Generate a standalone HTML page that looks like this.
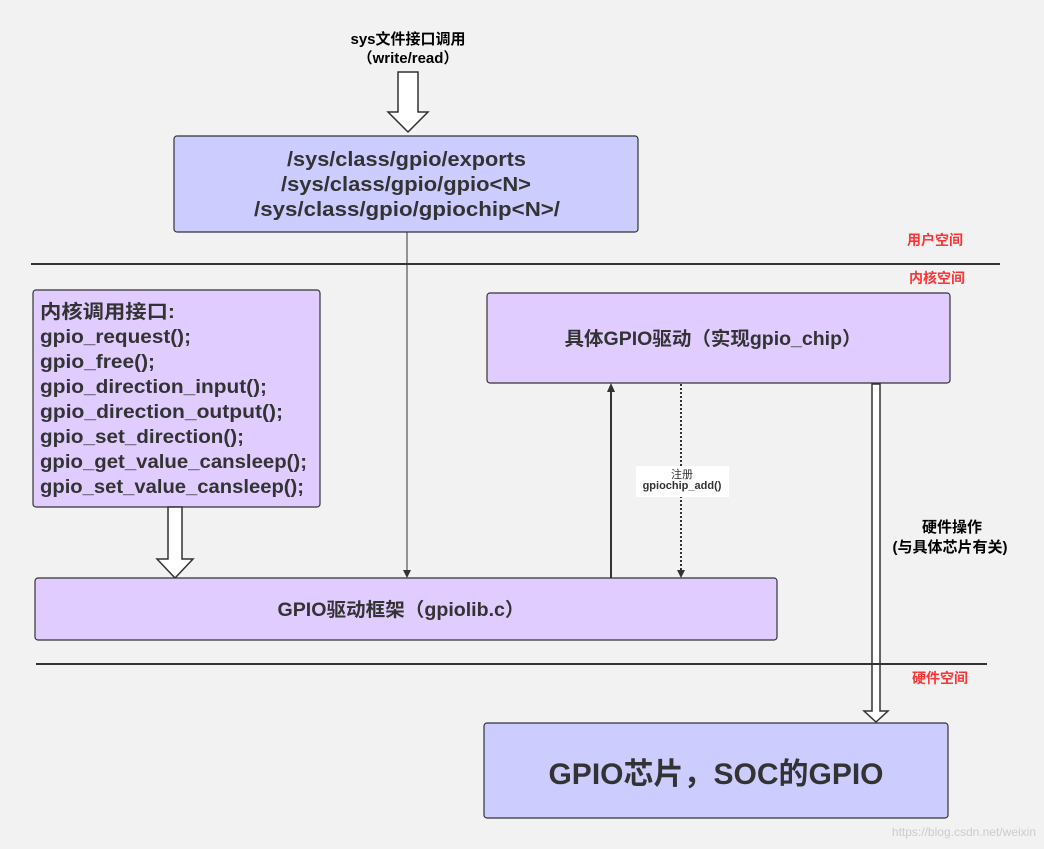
<!DOCTYPE html>
<html><head><meta charset="utf-8"><style>
html,body{margin:0;padding:0;background:#f2f2f2;}
svg{display:block;}
text{font-family:"Liberation Sans","Noto Sans CJK SC",sans-serif;fill:#333;font-weight:bold;}
</style></head><body>
<svg width="1044" height="849" viewBox="0 0 1044 849">
<rect width="1044" height="849" fill="#f2f2f2"/>
<text x="408" y="44" font-size="15" text-anchor="middle" style="fill:#000">sys文件接口调用</text>
<text x="408" y="63" font-size="15" text-anchor="middle" style="fill:#000">（write/read）</text>
<path d="M398,72 H418 V112 H428 L408,132 L388,112 H398 Z" fill="#fff" stroke="#333" stroke-width="1.5"/>
<rect x="174" y="136" width="464" height="96" rx="3" fill="#ccccff" stroke="#333" stroke-width="1.2"/>
<text x="287" y="166" font-size="20" textLength="239" lengthAdjust="spacingAndGlyphs">/sys/class/gpio/exports</text>
<text x="281" y="191" font-size="20" textLength="250" lengthAdjust="spacingAndGlyphs">/sys/class/gpio/gpio&lt;N&gt;</text>
<text x="254" y="216" font-size="20" textLength="306" lengthAdjust="spacingAndGlyphs">/sys/class/gpio/gpiochip&lt;N&gt;/</text>
<line x1="31" y1="264" x2="1000" y2="264" stroke="#333" stroke-width="2"/>
<text x="935" y="245" font-size="14" text-anchor="middle" style="fill:#ff3333">用户空间</text>
<text x="937" y="283" font-size="14" text-anchor="middle" style="fill:#ff3333">内核空间</text>
<rect x="33" y="290" width="287" height="217" rx="3" fill="#e1ccff" stroke="#333" stroke-width="1.2"/>
<g font-size="19">
<text x="40" y="318" textLength="135" lengthAdjust="spacingAndGlyphs">内核调用接口:</text>
<text x="40" y="343" textLength="151" lengthAdjust="spacingAndGlyphs">gpio_request();</text>
<text x="40" y="368" textLength="115" lengthAdjust="spacingAndGlyphs">gpio_free();</text>
<text x="40" y="393" textLength="227" lengthAdjust="spacingAndGlyphs">gpio_direction_input();</text>
<text x="40" y="418" textLength="243" lengthAdjust="spacingAndGlyphs">gpio_direction_output();</text>
<text x="40" y="443" textLength="204" lengthAdjust="spacingAndGlyphs">gpio_set_direction();</text>
<text x="40" y="468" textLength="267" lengthAdjust="spacingAndGlyphs">gpio_get_value_cansleep();</text>
<text x="40" y="493" textLength="264" lengthAdjust="spacingAndGlyphs">gpio_set_value_cansleep();</text>
</g>
<path d="M168,507 H182 V559 H193 L175,578 L157,559 H168 Z" fill="#fff" stroke="#333" stroke-width="1.5"/>
<line x1="407" y1="232" x2="407" y2="572" stroke="#333" stroke-width="1"/>
<path d="M403,570 L407,578 L411,570 Z" fill="#333"/>
<rect x="487" y="293" width="463" height="90" rx="3" fill="#e1ccff" stroke="#333" stroke-width="1.2"/>
<text x="713" y="345" font-size="19" text-anchor="middle" textLength="297" lengthAdjust="spacingAndGlyphs">具体GPIO驱动（实现gpio_chip）</text>
<line x1="611" y1="578" x2="611" y2="390" stroke="#333" stroke-width="2"/>
<path d="M607,392 L611,383 L615,392 Z" fill="#333"/>
<line x1="681" y1="384" x2="681" y2="570" stroke="#333" stroke-width="2" stroke-dasharray="2,2"/>
<path d="M677,570 L681,578 L685,570 Z" fill="#333"/>
<rect x="636" y="466" width="93" height="31" fill="#fff"/>
<text x="682" y="478" font-size="11" text-anchor="middle" style="font-weight:normal">注册</text>
<text x="682" y="489" font-size="11" text-anchor="middle">gpiochip_add()</text>
<rect x="35" y="578" width="742" height="62" rx="3" fill="#e1ccff" stroke="#333" stroke-width="1.2"/>
<text x="401" y="616" font-size="19" text-anchor="middle" textLength="247" lengthAdjust="spacingAndGlyphs">GPIO驱动框架（gpiolib.c）</text>
<path d="M872,384 H880 V711 H888 L876,722 L864,711 H872 Z" fill="#fff" stroke="#333" stroke-width="1.5"/>
<text x="952" y="532" font-size="15" text-anchor="middle" style="fill:#000">硬件操作</text>
<text x="950" y="552" font-size="15" text-anchor="middle" style="fill:#000">(与具体芯片有关)</text>
<line x1="36" y1="664" x2="987" y2="664" stroke="#333" stroke-width="2"/>
<text x="940" y="683" font-size="14" text-anchor="middle" style="fill:#ff3333">硬件空间</text>
<rect x="484" y="723" width="464" height="95" rx="3" fill="#ccccff" stroke="#333" stroke-width="1.2"/>
<text x="716" y="784" font-size="30" text-anchor="middle">GPIO芯片，SOC的GPIO</text>
<text x="1036" y="836" font-size="12" text-anchor="end" style="fill:#ccc;font-weight:normal">https://blog.csdn.net/weixin</text>
</svg>
</body></html>
